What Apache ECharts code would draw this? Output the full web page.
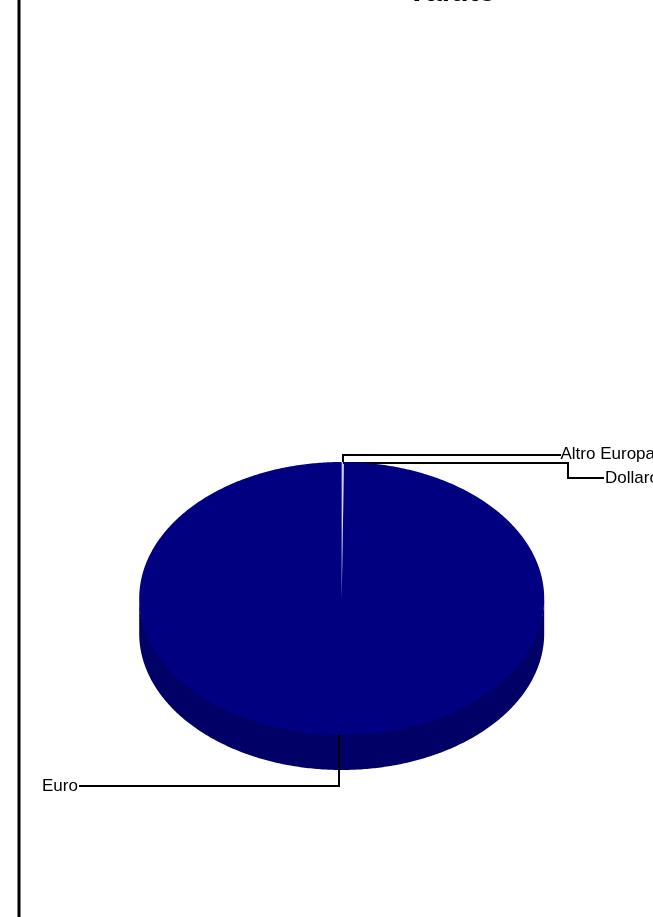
<!DOCTYPE html>
<html>
<head>
<meta charset="utf-8">
<style>html,body{margin:0;padding:0;background:#fff}#c{width:653px;height:917px}</style>
<script src="https://cdn.jsdelivr.net/npm/echarts@6/dist/echarts.min.js"></script>
</head>
<body>
<div id="c"></div>
<script>
const categories = ['Altro Europa', 'Dollaro', 'Euro'];
const shares = [0.1, 0.08, 99.82];
const titleText = 'Valute';

const colors = ['#c8c8d8', '#c8c8d8', '#000080'];
const wallColor = '#000066';
const geom = { cx: 341.7, cy: 598.5, rx: 202.5, ry: 136.5, depth: 35 };
const leaders = [
  { start: [343, 462], path: [[343, 455], [561, 455]], text: [560.5, 454] },
  { start: [343, 463], path: [[568, 463], [568, 478], [604, 478]], text: [605, 478] },
  { start: [339, 735], path: [[339, 786], [79, 786]], text: [42, 786] }
];

const total = shares.reduce((a, b) => a + b, 0);
const pt = (a, dy) => [geom.cx + geom.rx * Math.sin(a), geom.cy + (dy || 0) - geom.ry * Math.cos(a)];

function arc(a0, a1, dy) {
  const n = Math.max(2, Math.ceil((a1 - a0) / 0.01));
  const pts = [];
  for (let i = 0; i <= n; i++) pts.push(pt(a0 + (a1 - a0) * i / n, dy));
  return pts;
}

function renderItem(params, api) {
  const i = params.dataIndex;
  let before = 0;
  for (let k = 0; k < i; k++) before += shares[k];
  const a0 = before / total * Math.PI * 2;
  const a1 = (before + api.value(0)) / total * Math.PI * 2;
  const children = [];
  const w0 = Math.max(a0, Math.PI / 2), w1 = Math.min(a1, Math.PI * 1.5);
  if (w1 > w0) {
    const top = arc(w0, w1, -2), low = arc(w0, w1, geom.depth).reverse();
    children.push({ type: 'polygon', shape: { points: top.concat(low) }, style: { fill: wallColor } });
  }
  children.push({
    type: 'polygon',
    shape: { points: [[geom.cx, geom.cy]].concat(arc(a0, a1, 0)) },
    style: { fill: colors[i] }
  });
  const l = leaders[i];
  children.push({
    type: 'polyline',
    shape: { points: [l.start].concat(l.path) },
    style: { stroke: '#000', lineWidth: 2, fill: null }
  });
  children.push({
    type: 'text',
    style: {
      text: categories[i], x: l.text[0], y: l.text[1],
      font: '17px "Liberation Sans", Arial, sans-serif',
      fill: '#000', verticalAlign: 'middle', align: 'left'
    }
  });
  return { type: 'group', z2: 3 - i, children };
}

const chart = echarts.init(document.getElementById('c'), null, { renderer: 'canvas' });
chart.setOption({
  backgroundColor: '#ffffff',
  animation: false,
  graphic: [
    { type: 'line', z: 10, shape: { x1: 19, y1: 0, x2: 19, y2: 917 }, style: { stroke: '#000', lineWidth: 3 } },
    { type: 'text', z: 10, style: { text: titleText, x: 451, y: 8, align: 'center', verticalAlign: 'bottom', font: 'bold 30px "Liberation Sans", Arial, sans-serif', fill: '#000' } }
  ],
  series: [{
    type: 'custom',
    coordinateSystem: 'none',
    renderItem,
    silent: true,
    clip: false,
    data: shares.map(v => [v])
  }]
});
</script>
</body>
</html>
